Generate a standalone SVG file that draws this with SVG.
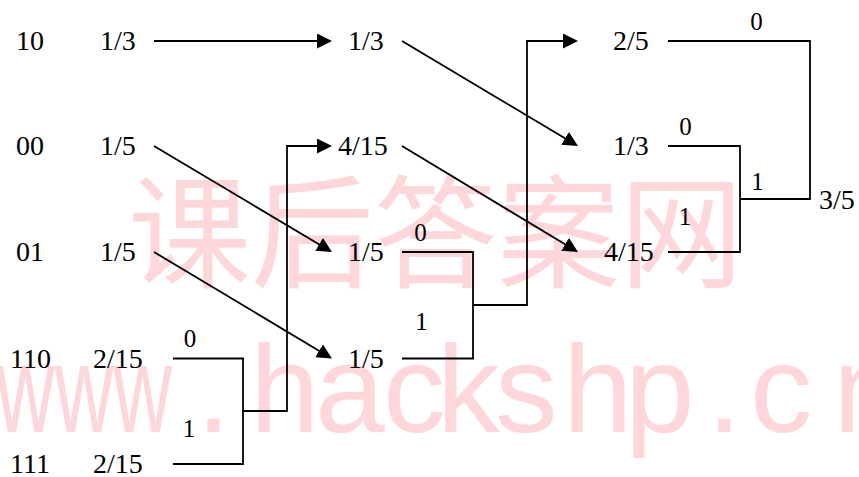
<svg xmlns="http://www.w3.org/2000/svg" width="859" height="477" viewBox="0 0 859 477">
<style>
.t{font-family:"Liberation Serif","Times New Roman",serif;font-size:28px;fill:#000}
.l{font-family:"Liberation Serif","Times New Roman",serif;font-size:25px;fill:#000;text-anchor:middle}
.c{fill:none;stroke:#000;stroke-width:1.8}
.wm{fill:#ffd6d9}
</style>
<defs>
<marker id="ah" markerUnits="userSpaceOnUse" markerWidth="16" markerHeight="16" refX="12" refY="7.5" orient="auto">
<path d="M0,0 L15,7.5 L0,15 Z" fill="#000"/>
</marker>
</defs>
<rect width="859" height="477" fill="#fff"/>
<g id="watermark">
<text class="wm" x="128" y="278" style="font-family:'Noto Sans CJK SC',sans-serif;font-size:123px">课后答案网</text>
<text class="wm" transform="translate(-4,432) scale(0.65,1)" style="font-family:'Liberation Sans',Arial,sans-serif;font-size:125px">www</text>
<text class="wm" y="432" x="196 250 315 383 437 495 563 625 707 750 833" style="font-family:'Liberation Sans',Arial,sans-serif;font-size:125px">.hackshp.cn</text>
</g>
<g id="connectors">
<line class="c" x1="154" y1="41" x2="329" y2="41" marker-end="url(#ah)"/>
<line class="c" x1="154" y1="146" x2="329.4" y2="250.5" marker-end="url(#ah)"/>
<line class="c" x1="154" y1="252" x2="329.4" y2="357" marker-end="url(#ah)"/>
<path class="c" d="M173,358.5 H243 V464 H173"/>
<path class="c" d="M243,411 H287 V146 H329" marker-end="url(#ah)"/>
<line class="c" x1="402" y1="41" x2="575.4" y2="144.5" marker-end="url(#ah)"/>
<line class="c" x1="402" y1="146" x2="575.4" y2="250.5" marker-end="url(#ah)"/>
<path class="c" d="M402,252 H473 V358.5 H402"/>
<path class="c" d="M473,305 H527 V41 H575" marker-end="url(#ah)"/>
<path class="c" d="M668,146 H740 V252 H668"/>
<path class="c" d="M740,199 H810 V41 H668"/>
</g>
<g id="codes">
<text class="t" x="16" y="50">10</text>
<text class="t" x="16" y="155">00</text>
<text class="t" x="16" y="261">01</text>
<text class="t" x="10" y="367.5">110</text>
<text class="t" x="10" y="473">111</text>
</g>
<g id="n-c1-1"><text class="t" x="100" y="50">1/3</text></g>
<g id="n-c1-2"><text class="t" x="100" y="155">1/5</text></g>
<g id="n-c1-3"><text class="t" x="100" y="261">1/5</text></g>
<g id="n-c1-4"><text class="t" x="93" y="367.5">2/15</text></g>
<g id="n-c1-5"><text class="t" x="93" y="473">2/15</text></g>
<g id="n-c2-1"><text class="t" x="348" y="50">1/3</text></g>
<g id="n-c2-2"><text class="t" x="338" y="155">4/15</text></g>
<g id="n-c2-3"><text class="t" x="348" y="261">1/5</text></g>
<g id="n-c2-4"><text class="t" x="348" y="367.5">1/5</text></g>
<g id="n-c3-1"><text class="t" x="613" y="50">2/5</text></g>
<g id="n-c3-2"><text class="t" x="613" y="155">1/3</text></g>
<g id="n-c3-3"><text class="t" x="604" y="261">4/15</text></g>
<g id="n-root"><text class="t" x="819" y="208.5">3/5</text></g>
<g id="labels">
<text class="l" x="190" y="347">0</text>
<text class="l" x="189" y="437">1</text>
<text class="l" x="420.5" y="241">0</text>
<text class="l" x="421.5" y="330">1</text>
<text class="l" x="685.5" y="135">0</text>
<text class="l" x="685" y="225">1</text>
<text class="l" x="756.5" y="30">0</text>
<text class="l" x="757.5" y="190">1</text>
</g>
</svg>
